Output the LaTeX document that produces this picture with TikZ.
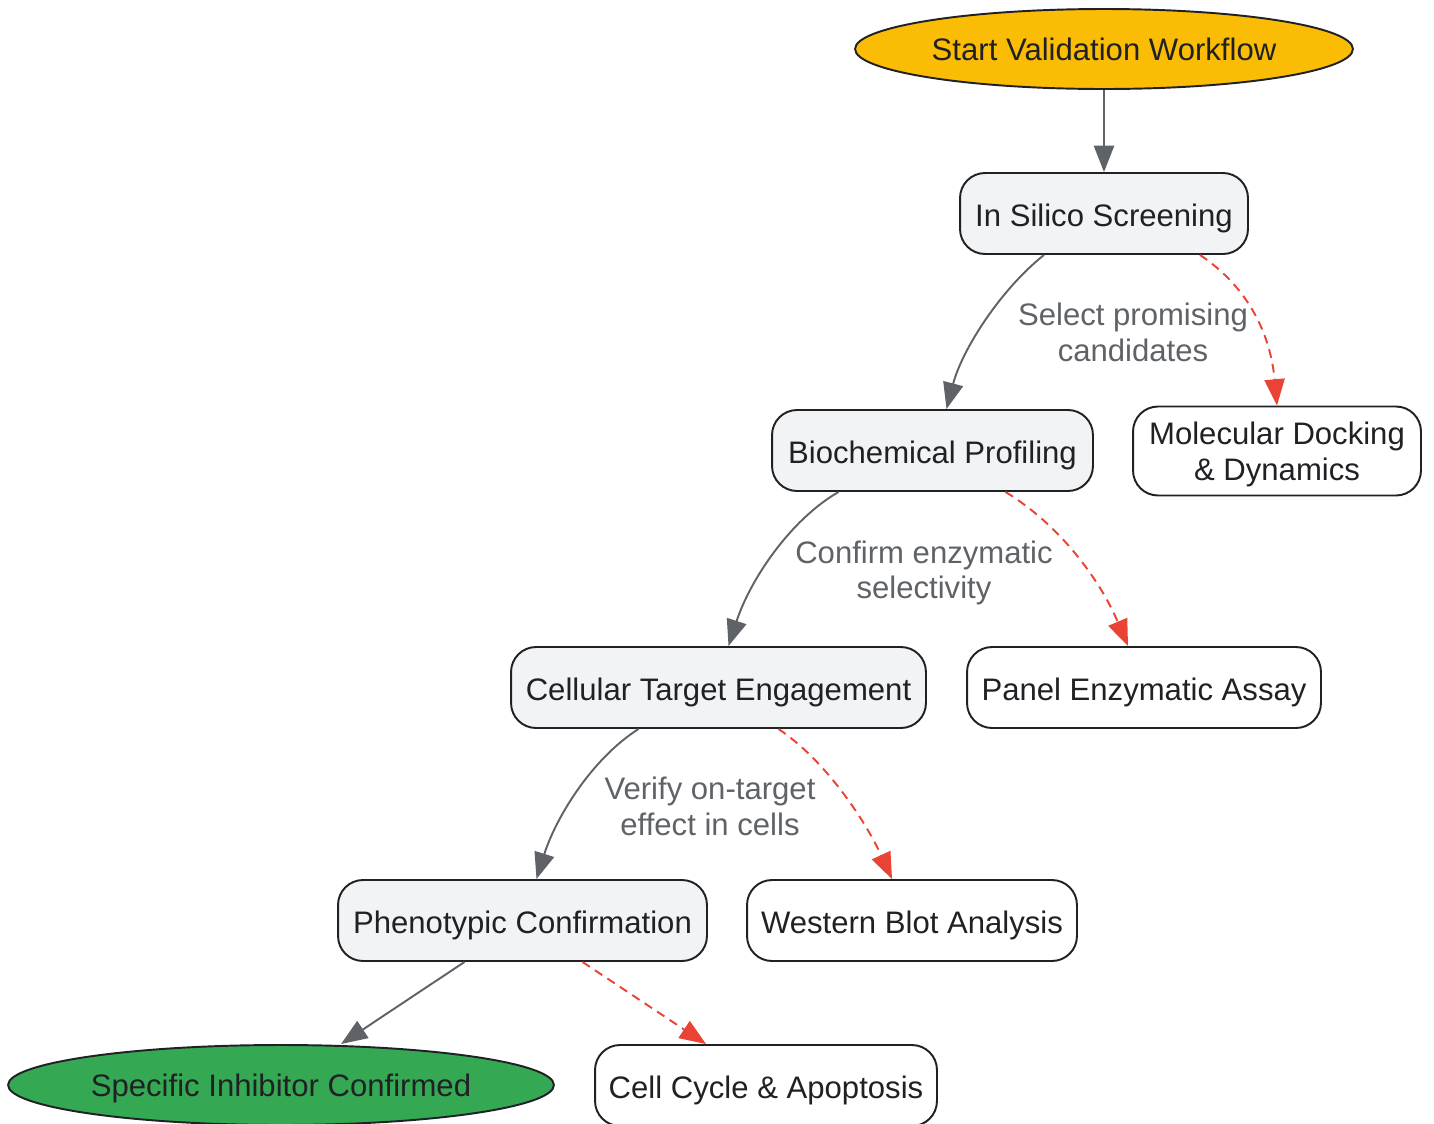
\documentclass[tikz,border=0pt]{standalone}
\usepackage{fontspec}
\setmainfont{Liberation Sans}
\usetikzlibrary{arrows.meta,shapes.geometric}
\definecolor{ink}{HTML}{202124}
\definecolor{edgegray}{HTML}{5F6368}
\definecolor{alertred}{HTML}{EA4335}
\definecolor{startyellow}{HTML}{FBBC05}
\definecolor{donegreen}{HTML}{34A853}
\definecolor{stagefill}{HTML}{F1F3F4}
\tikzset{
  boxbase/.style={draw=ink, line width=1.1pt, rounded corners=0.5cm,
    minimum height=1.62cm, inner xsep=0.2cm, align=center, text=ink, text depth=0pt},
  stage/.style={boxbase, fill=stagefill, text height=14.3pt},
  side/.style={boxbase, fill=white, text height=14.3pt},
  terminal/.style={draw=ink, line width=1.1pt, ellipse, minimum height=1.6cm, inner sep=0pt,
    text=ink, text depth=0pt},
  flow/.style={draw=edgegray, line width=1.1pt, -{Triangle[length=15pt,width=11.5pt]}},
  branch/.style={draw=alertred, line width=1.1pt, dash pattern=on 5pt off 3.5pt,
    -{Triangle[length=15pt,width=11.5pt]}},
  note/.style={text=edgegray, align=center}
}
\begin{document}
\begin{tikzpicture}[x=0.02cm, y=-0.02cm, font=\fontsize{17.7}{20.4}\selectfont]
\useasboundingbox (0,0) rectangle (1434,1123);

\node[terminal, fill=startyellow, minimum width=9.96cm] (start) at (1104,49) {Start Validation Workflow};
\node[stage, minimum width=5.76cm] (silico) at (1104,213.5) {In Silico Screening};
\node[stage, minimum width=6.42cm] (bio) at (932.5,450.5) {Biochemical Profiling};
\node[boxbase, fill=white, minimum width=5.76cm, minimum height=1.78cm] (dock) at (1277,451) {Molecular Docking\\\& Dynamics};
\node[stage, minimum width=8.3cm] (cell) at (718.5,687.5) {Cellular Target Engagement};
\node[side, minimum width=7.08cm] (panel) at (1144,687.5) {Panel Enzymatic Assay};
\node[stage, minimum width=7.38cm] (pheno) at (522.5,920.5) {Phenotypic Confirmation};
\node[side, minimum width=6.6cm] (western) at (912,920.5) {Western Blot Analysis};
\node[terminal, fill=donegreen, minimum width=10.92cm] (done) at (281,1085) {Specific Inhibitor Confirmed};
\node[side, minimum width=6.84cm] (cellcycle) at (766,1085.5) {Cell Cycle \& Apoptosis};

\node[note] (lab1) at (1133,332) {Select promising\\candidates};
\node[note] (lab2) at (924,573) {Confirm enzymatic\\selectivity};
\node[note] (lab3) at (710,806) {Verify on-target\\effect in cells};

\path[flow] (start) -- (silico);
\path[flow] ([xshift=-1.2cm]silico.south) .. controls (1000,290) and (962,350) .. ([xshift=0.28cm]bio.north);
\path[branch] ([xshift=1.92cm]silico.south) .. controls (1245,285) and (1270,330) .. (dock.north);
\path[flow] ([xshift=-1.88cm]bio.south) .. controls (790,520) and (750,580) .. ([xshift=0.2cm]cell.north);
\path[branch] ([xshift=1.46cm]bio.south) .. controls (1060,525) and (1100,580) .. ([xshift=-0.32cm]panel.north);
\path[flow] ([xshift=-1.6cm]cell.south) .. controls (590,760) and (555,820) .. ([xshift=0.28cm]pheno.north);
\path[branch] ([xshift=1.2cm]cell.south) .. controls (825,760) and (865,820) .. ([xshift=-0.4cm]western.north);
\path[flow] ([xshift=-1.16cm]pheno.south) -- ([xshift=1.2cm]done.north);
\path[branch] ([xshift=1.2cm]pheno.south) -- ([xshift=-1.2cm]cellcycle.north);
\end{tikzpicture}
\end{document}
